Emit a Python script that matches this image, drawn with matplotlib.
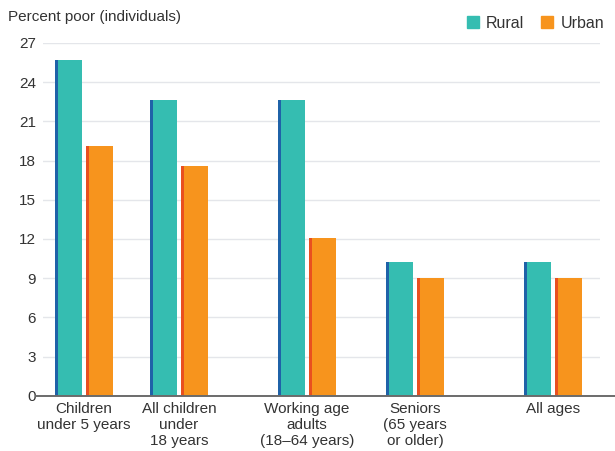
import numpy as np
import matplotlib.pyplot as plt
from matplotlib.patches import Patch

plt.rcParams['font.family'] = ['Liberation Sans', 'DejaVu Sans']

categories = ['Children\nunder 5 years', 'All children\nunder\n18 years',
              'Working age\nadults\n(18\u201364 years)', 'Seniors\n(65 years\nor older)',
              'All ages']
rural = [25.7, 22.6, 22.6, 10.2, 10.2]
urban = [19.1, 17.6, 12.1, 9.0, 9.0]
yticks = [0, 3, 6, 9, 12, 15, 18, 21, 24, 27]

# group centres (uneven spacing as in the original layout)
group_x = np.array([0.0, 0.952, 2.232, 3.312, 4.692])
width = 0.27
offset = 0.155
edge_w = 0.03

teal, teal_edge = '#35bdb1', '#1f62a8'
orange, orange_edge = '#f7941d', '#e9501f'
text_col = '#333333'
fs = 11

fig = plt.figure(figsize=(6.15, 4.51), dpi=100)
ax = fig.add_axes([43 / 615, 1 - 395.7 / 451, 557 / 615, 352.7 / 451])

for vals, dx, fc, ec in [(rural, -offset, teal, teal_edge),
                         (urban, offset, orange, orange_edge)]:
    x = group_x + dx
    ax.bar(x, vals, width=width, color=fc, zorder=2)
    # darker strip on the left side of each bar
    ax.bar(x - width / 2, vals, width=edge_w, align='edge', color=ec, zorder=3)

ax.set_xlim(-0.408, 5.162)
ax.set_ylim(0, 27)
ax.set_yticks(yticks)
ax.set_xticks(group_x)
ax.set_xticklabels(categories, fontsize=fs, color=text_col, linespacing=1.18,
                   multialignment='center')
ax.tick_params(axis='both', length=0, labelsize=fs, labelcolor=text_col)
ax.tick_params(axis='y', pad=5)
ax.tick_params(axis='x', pad=4.5)
ax.grid(axis='y', color='#e4e6ea', linewidth=1, zorder=0)
for s in ax.spines.values():
    s.set_visible(False)
ax.axhline(0, xmin=-0.012, xmax=1.03, color='#6b6b6b', linewidth=1.4,
           clip_on=False, zorder=4)

fig.text(8 / 615, 1 - 17 / 451, 'Percent poor (individuals)', fontsize=fs,
         color=text_col, va='center', ha='left')

handles = [Patch(color=teal, label='Rural'), Patch(color=orange, label='Urban')]
fig.legend(handles=handles, loc='center right', bbox_to_anchor=(612 / 615, 1 - 23 / 451),
           ncol=2, frameon=False, fontsize=11.5, handlelength=0.75, handleheight=0.75,
           handletextpad=0.45, columnspacing=1.05, borderpad=0, labelcolor=text_col)

fig.savefig('out.png', dpi=100)
